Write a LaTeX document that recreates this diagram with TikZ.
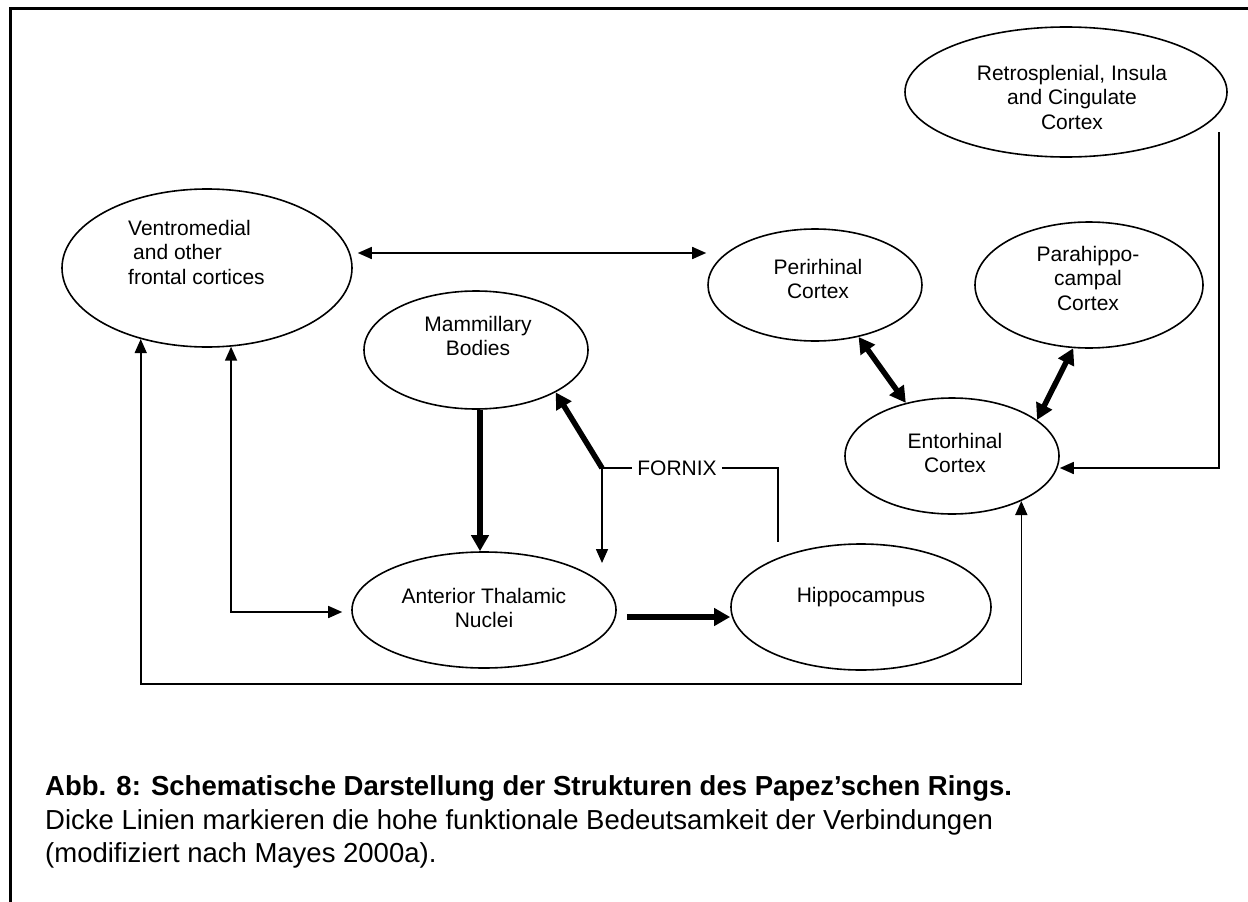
\documentclass[tikz,border=0pt]{standalone}
\usepackage{fontspec}
\setmainfont{Liberation Sans}
\usetikzlibrary{shapes.geometric,arrows.meta}

\begin{document}
\begin{tikzpicture}[x=1pt,y=-1pt,
  regionshape/.style={draw, line width=1.6pt, ellipse, inner sep=0pt},
  namelbl/.style={align=center, inner sep=0pt, font=\fontsize{21}{24.5}\selectfont},
  captionline/.style={anchor=base west, inner sep=0pt, font=\fontsize{27.5}{33}\selectfont},
  plainlink/.style={line width=1.6pt},
  onearrow/.style={plainlink, -{Triangle[length=14pt,width=12pt]}},
  botharrow/.style={plainlink, {Triangle[length=14pt,width=12pt]}-{Triangle[length=14pt,width=12pt]}},
  strongone/.style={line width=5.5pt, -{Triangle[length=16pt,width=17pt]}},
  strongboth/.style={line width=5.5pt, {Triangle[length=16pt,width=17pt]}-{Triangle[length=16pt,width=17pt]}},
  ]
  \useasboundingbox[fill=white] (0,0) rectangle (1248,902);

  % frame along the top and left edge
  \draw[line width=3.5pt] (10.5,902) -- (10.5,8.5) -- (1248,8.5);

  % brain regions
  \node[regionshape, minimum width=322, minimum height=130] (ret) at (1066,92) {};
  \node[regionshape, minimum width=290, minimum height=158] (ven) at (207,268) {};
  \node[regionshape, minimum width=214, minimum height=112] (peri) at (815,285) {};
  \node[regionshape, minimum width=228, minimum height=126] (para) at (1089,285) {};
  \node[regionshape, minimum width=214, minimum height=116] (ent) at (952,456) {};
  \node[regionshape, minimum width=224, minimum height=118] (mam) at (476,350) {};
  \node[regionshape, minimum width=264, minimum height=116] (ant) at (484,610) {};
  \node[regionshape, minimum width=260, minimum height=126] (hip) at (861,607) {};

  % region names
  \node[namelbl] (retT) at (1072,97) {Retrosplenial, Insula\\and Cingulate\\Cortex};
  \node[namelbl, align=left, anchor=west] (venT) at (128,252) {Ventromedial\\\hspace*{5pt}and other\\frontal cortices};
  \node[namelbl] (periT) at (818,279) {Perirhinal\\Cortex};
  \node[namelbl] (paraT) at (1088,278) {Parahippo-\\campal\\Cortex};
  \node[namelbl] (entT) at (955,453) {Entorhinal\\Cortex};
  \node[namelbl] (mamT) at (478,336) {Mammillary\\Bodies};
  \node[namelbl] (antT) at (484,608) {Anterior Thalamic\\Nuclei};
  \node[namelbl] (hipT) at (861,597) {Hippocampus};

  % fornix
  \coordinate (fx) at (602,468);
  \coordinate (hx) at (778,542);
  \node[namelbl, inner xsep=5pt] (fornix) at (677,468) {FORNIX};
  \draw[plainlink] (fx) -- (fornix.west);
  \draw[plainlink] (fornix.east) -| (hx);
  \draw[strongone] (fx) -- (mam.-28);
  \draw[onearrow] (fx) -- ++(0,95);

  % connections
  \draw[botharrow] ([shift={(5,-15)}]ven.east) -- ([shift={(-1,-32)}]peri.west);
  \draw[strongboth] (peri.-50) -- (ent.131);
  \draw[strongboth] (para.-104) -- (ent.23.4);
  \coordinate (rs) at (1219,132);
  \draw[onearrow] (rs) |- ([yshift=-12pt]ent.east);
  \coordinate (loopbase) at (0,684);
  \draw[botharrow] (ven.227.5) -- (ven.227.5 |- loopbase) -| (ent.-33.5);
  \draw[botharrow] (ven.-73) |- ([shift={(-9,2)}]ant.west);
  \draw[strongone] ([xshift=4pt]mam.south) -- ([xshift=-4pt]ant.north);
  \draw[strongone] ([shift={(10,7)}]ant.east) -- ([shift={(0,10)}]hip.west);

  % caption
  \node[captionline] (cap1) at (45,795) {\textbf{Abb. 8: Schematische Darstellung der Strukturen des Papez’schen Rings.}};
  \node[captionline] (cap2) at (45,829) {Dicke Linien markieren die hohe funktionale Bedeutsamkeit der Verbindungen};
  \node[captionline] (cap3) at (45,862) {(modifiziert nach Mayes 2000a).};
\end{tikzpicture}
\end{document}
